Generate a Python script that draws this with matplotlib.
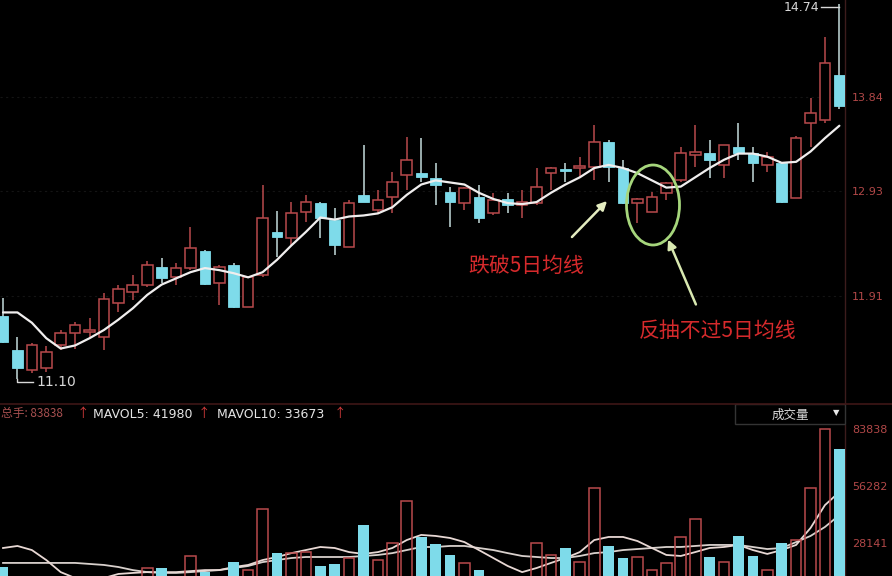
import matplotlib
matplotlib.use('Agg')
import matplotlib.pyplot as plt
from matplotlib.patches import Ellipse, Rectangle, FancyArrowPatch
from matplotlib.lines import Line2D
import numpy as np

plt.rcParams['font.family'] = ['DejaVu Sans', 'Noto Sans CJK SC']

# ---------------- data ----------------
opens = [11.72, 11.39, 11.19, 11.21, 11.43, 11.55, 11.56, 11.51, 11.84, 11.95,
         12.02, 12.19, 12.09, 12.18, 12.35, 12.04, 12.21, 11.80, 12.11, 12.53,
         12.47, 12.72, 12.81, 12.65, 12.38, 12.89, 12.74, 12.87, 13.08, 13.10,
         13.05, 12.92, 12.81, 12.87, 12.71, 12.85, 12.79, 12.81, 13.10, 13.14,
         13.15, 13.16, 13.40, 13.15, 12.81, 12.72, 12.91, 13.03, 13.28, 13.30,
         13.18, 13.35, 13.30, 13.18, 13.20, 12.86, 13.59, 13.62, 14.05]
highs = [11.89, 11.51, 11.45, 11.42, 11.58, 11.66, 11.70, 11.94, 12.02, 12.11,
         12.25, 12.28, 12.23, 12.58, 12.36, 12.21, 12.23, 12.09, 12.99, 12.73,
         12.82, 12.89, 12.82, 12.76, 12.84, 13.37, 12.94, 13.11, 13.45, 13.44,
         13.20, 12.97, 12.97, 12.99, 12.91, 12.91, 12.94, 13.15, 13.16, 13.20,
         13.26, 13.57, 13.42, 13.23, 12.86, 12.92, 13.01, 13.35, 13.57, 13.42,
         13.37, 13.59, 13.35, 13.31, 13.21, 13.46, 13.83, 14.42, 14.74]
lows = [11.45, 11.10, 11.16, 11.17, 11.39, 11.40, 11.51, 11.39, 11.75, 11.87,
        12.00, 12.04, 12.02, 12.16, 12.02, 11.82, 11.79, 11.80, 12.09, 12.29,
        12.40, 12.63, 12.47, 12.31, 12.38, 12.82, 12.71, 12.71, 12.94, 13.01,
        12.79, 12.58, 12.74, 12.62, 12.69, 12.71, 12.67, 12.79, 12.94, 13.01,
        13.05, 13.03, 13.01, 12.80, 12.62, 12.72, 12.84, 13.01, 13.16, 13.05,
        13.05, 13.23, 13.01, 13.11, 12.81, 12.86, 13.35, 13.59, 13.72]
closes = [11.46, 11.21, 11.43, 11.37, 11.55, 11.63, 11.58, 11.88, 11.98, 12.02,
          12.21, 12.08, 12.18, 12.37, 12.03, 12.19, 11.80, 12.09, 12.67, 12.48,
          12.71, 12.82, 12.67, 12.40, 12.81, 12.82, 12.84, 13.01, 13.23, 13.06,
          12.99, 12.82, 12.96, 12.67, 12.84, 12.79, 12.82, 12.97, 13.15, 13.12,
          13.16, 13.40, 13.16, 12.81, 12.85, 12.87, 13.00, 13.30, 13.31, 13.23,
          13.37, 13.30, 13.20, 13.26, 12.82, 13.44, 13.68, 14.17, 13.75]
ma5 = [11.75, 11.75, 11.65, 11.50, 11.40, 11.43, 11.50, 11.58, 11.68, 11.79,
       11.92, 12.02, 12.08, 12.14, 12.18, 12.16, 12.13, 12.09, 12.14, 12.26,
       12.40, 12.53, 12.67, 12.65, 12.68, 12.69, 12.71, 12.77, 12.89, 12.99,
       13.03, 13.01, 12.99, 12.91, 12.85, 12.81, 12.80, 12.82, 12.91, 12.99,
       13.06, 13.15, 13.18, 13.15, 13.10, 13.03, 12.96, 12.97, 13.06, 13.15,
       13.23, 13.29, 13.29, 13.26, 13.20, 13.21, 13.31, 13.44, 13.56]
volumes = [16400, 11000, 9000, 8000, 7500, 7000, 6500, 11500, 10000, 9500,
           15900, 15900, 10500, 21800, 14000, 11000, 18800, 14900, 44800, 23300,
           23300, 23700, 16900, 17900, 20800, 37000, 19800, 28100, 48700, 31100,
           27700, 22300, 18400, 14900, 10500, 9800, 11000, 28100, 22300, 25700,
           18800, 55100, 26700, 20800, 21300, 14900, 18400, 31100, 39900, 21300,
           18800, 31600, 21800, 15000, 28100, 29600, 55100, 83838, 74100]
mavol5 = [25700, 26700, 24700, 19800, 13900, 11000, 10000, 11000, 13000, 13500,
          13900, 13900, 13900, 14400, 14900, 14900, 16400, 17400, 19800, 21300,
          23200, 24700, 26200, 25700, 23700, 22800, 23700, 25700, 29600, 32100,
          31600, 30600, 28600, 24700, 20800, 16900, 13900, 15900, 18400, 20800,
          23700, 29600, 31100, 31100, 29100, 25700, 22300, 21800, 23700, 25700,
          26200, 27200, 24700, 22800, 24700, 27200, 35500, 46700, 53100]
mavol10 = [18400, 18400, 18400, 18400, 18400, 18400, 17900, 17400, 16400, 14900,
           13900, 13500, 13500, 13900, 14400, 14900, 15900, 16900, 18800, 19800,
           20800, 21300, 21300, 21300, 21300, 21800, 22300, 23200, 24700, 26200,
           26200, 26700, 26700, 25700, 24700, 23200, 21800, 21300, 20800, 20800,
           21800, 23200, 23700, 24700, 25200, 25700, 26200, 26200, 26700, 27200,
           27200, 27200, 26200, 25200, 25700, 28600, 31600, 36000, 41800]
price_ticks = [11.91, 12.93, 13.84]
volume_ticks = [28141, 56282, 83838]
header_total = 83838
header_mavol5 = 41980
header_mavol10 = 33673
label_break = '跌破5日均线'
label_rebound = '反抽不过5日均线'
label_volume = '成交量'

# ---------------- styling ----------------
W, H = 892, 576
BG = '#000000'
RED = '#b84a4c'
CYAN = '#7edbea'
CYAN_WICK = '#c4dcdc'
AXIS_RED = '#b24848'
CJK = ['Noto Sans CJK SC', 'DejaVu Sans']

o = np.array(opens); h = np.array(highs); l = np.array(lows); c = np.array(closes)
v = np.array(volumes)
n = len(o)
x = np.arange(n)
up = c >= o
dn = ~up
body_lo = np.minimum(o, c)
body_hi = np.maximum(o, c)
body_h = np.maximum(body_hi - body_lo, 0.015)

fig = plt.figure(figsize=(W / 100, H / 100), dpi=100, facecolor=BG)

def fx(px):
    return px / W

def fy(py):
    return 1 - py / H

plot_right = 845
ax = fig.add_axes([0, fy(403), fx(plot_right), 403 / H])
axv = fig.add_axes([0, 0, fx(plot_right), 151 / H])

for a in (ax, axv):
    a.set_facecolor(BG)
    for s in ('top', 'left', 'bottom'):
        a.spines[s].set_visible(False)
    a.spines['right'].set_color('#3c1c1c')
    a.spines['right'].set_linewidth(1.0)
    a.set_xticks([])
    a.yaxis.tick_right()
    a.tick_params(axis='y', length=0, pad=5, labelsize=8, labelcolor=AXIS_RED)
    a.set_xlim(-0.21, 58.39)

# ---- price panel ----
price_top = 14.779
px_per = 0.009695
ax.set_ylim(price_top - px_per * 403, price_top)
ax.set_yticks(price_ticks)
ax.set_yticklabels([f'{t:.2f}' for t in price_ticks])
for t in price_ticks:
    ax.axhline(t, color='#141414', lw=0.8, ls=(0, (2, 3)), zorder=0)

bw = 0.74
# hollow up candles
ax.vlines(x[up], body_hi[up], h[up], color=RED, lw=1.1, zorder=2)
ax.vlines(x[up], l[up], body_lo[up], color=RED, lw=1.1, zorder=2)
ax.bar(x[up], body_h[up], bottom=body_lo[up], width=bw, facecolor=BG,
       edgecolor=RED, linewidth=1.1, zorder=3)
# filled down candles
ax.vlines(x[dn], l[dn], h[dn], color=CYAN_WICK, lw=1.1, zorder=2)
ax.bar(x[dn], body_h[dn], bottom=body_lo[dn], width=bw, color=CYAN,
       edgecolor=CYAN, linewidth=0.6, zorder=3)
# 5-day moving average
ax.plot(x, ma5, color='#f0eeee', lw=1.6, zorder=4, solid_capstyle='round')

# lowest / highest marks
i_lo = int(np.argmin(l))
y_lo = l[i_lo] - 0.025
ax.plot([i_lo, i_lo, i_lo + 1.1], [l[i_lo], y_lo, y_lo], color='#d8d8d8', lw=1.0, zorder=5)
ax.text(i_lo + 1.35, y_lo, f'{l[i_lo]:.2f}', color='#d8d8d8', fontsize=10,
        va='center', ha='left', zorder=5)
i_hi = int(np.argmax(h))
y_hi = h[i_hi] - 0.03
ax.plot([i_hi - 1.25, i_hi], [y_hi, y_hi], color='#d8d8d8', lw=1.0, zorder=5)
ax.text(i_hi - 1.4, y_hi, f'{h[i_hi]:.2f}', color='#d8d8d8', fontsize=9,
        va='center', ha='right', zorder=5)

# ---- volume panel ----
vol_top = 85900
vol_bottom = 12000
axv.set_ylim(vol_bottom, vol_top)
axv.set_yticks(volume_ticks)
axv.set_yticklabels([str(t) for t in volume_ticks])
axv.plot(x, mavol10, color='#d8d0cc', lw=1.3, zorder=2)
axv.plot(x, mavol5, color='#e8d8d4', lw=1.3, zorder=2)
axv.bar(x[up], v[up], width=bw, facecolor='none', edgecolor=RED, linewidth=1.1, zorder=3)
axv.bar(x[dn], v[dn], width=bw, color=CYAN, zorder=3)

# ---- header strip between panels ----
fig.add_artist(Line2D([0, 1], [fy(403.5), fy(403.5)], color='#3e1616', lw=1.2))
fig.add_artist(Rectangle((fx(735), fy(424)), fx(845) - fx(735), fy(404) - fy(424),
                         transform=fig.transFigure, fill=False, edgecolor='#343434', lw=1.0))
hy = fy(414)
fig.text(fx(1), hy, f'总手: {header_total}', color='#a85050', fontsize=8.5, va='center',
         ha='left', family=CJK)
fig.text(fx(77), hy, '↑', color='#d03a3a', fontsize=9, va='center', ha='left', family=CJK)
fig.text(fx(93), hy, f'MAVOL5: {header_mavol5}', color='#e4e4e4', fontsize=9, va='center', ha='left')
fig.text(fx(198), hy, '↑', color='#d03a3a', fontsize=9, va='center', ha='left', family=CJK)
fig.text(fx(217), hy, f'MAVOL10: {header_mavol10}', color='#e4e4e4', fontsize=9, va='center', ha='left')
fig.text(fx(334), hy, '↑', color='#d03a3a', fontsize=9, va='center', ha='left', family=CJK)
fig.text(fx(790), fy(415), label_volume, color='#d8d8d8', fontsize=9, va='center', ha='center',
         family=CJK)
fig.text(fx(836), fy(413), '▼', color='#e8e8e8', fontsize=6, va='center', ha='center')

# ---- annotations ----
fig.add_artist(Ellipse((fx(653), fy(205)), fx(53), 80 / H, transform=fig.transFigure,
                       fill=False, edgecolor='#a6d67c', lw=2.0))
fig.add_artist(FancyArrowPatch((fx(570), fy(239)), (fx(609), fy(199)), transform=fig.transFigure,
                               arrowstyle='-|>', mutation_scale=13, color='#e4ecc0', lw=1.8))
fig.add_artist(FancyArrowPatch((fx(697), fy(307)), (fx(667), fy(237)), transform=fig.transFigure,
                               arrowstyle='-|>', mutation_scale=13, color='#d8e8b0', lw=1.8))
fig.text(fx(526), fy(266), label_break, color='#d62a2c', fontsize=15, ha='center', va='center',
         family=CJK)
fig.text(fx(718), fy(331), label_rebound, color='#d62a2c', fontsize=15, ha='center', va='center',
         family=CJK)

fig.savefig('out.png', dpi=100, facecolor=BG)
